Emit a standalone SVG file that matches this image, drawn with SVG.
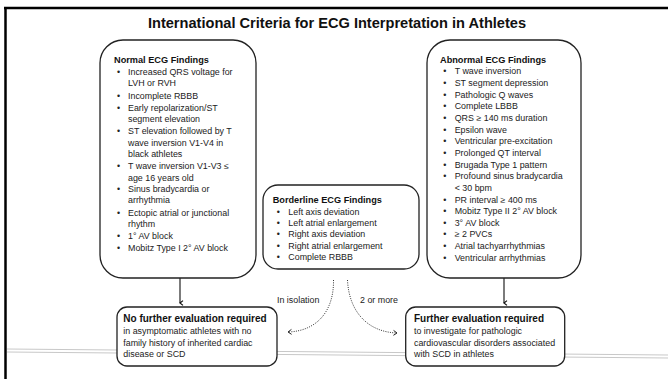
<svg xmlns="http://www.w3.org/2000/svg" width="668" height="379" viewBox="0 0 668 379">
<defs>
<style>
text{font-family:"Liberation Sans",Arial,sans-serif;font-size:8.9px;fill:#222}
.title{font-size:14.6px;font-weight:bold;fill:#111}
.h{font-size:9.2px;font-weight:bold;fill:#111}
.h2{font-size:10px;font-weight:bold;fill:#111}
.box{fill:#fff;stroke:#222;stroke-width:1.3}
.arrow{stroke:#444;stroke-width:1.4;fill:none}
.dot{stroke:#333;stroke-width:1;fill:none;stroke-dasharray:1 1.3}
</style>
<marker id="ah" viewBox="0 0 10 10" refX="5" refY="8" markerWidth="6" markerHeight="6" orient="auto" markerUnits="userSpaceOnUse">
<path d="M1,3 L5,8 L9,3" fill="none" stroke="#111" stroke-width="2"/>
</marker>
<marker id="dh" viewBox="0 0 10 10" refX="8" refY="5" markerWidth="7" markerHeight="7" orient="auto" markerUnits="userSpaceOnUse">
<path d="M3,1.5 L8,5 L3,8.5" fill="none" stroke="#222" stroke-width="1.4"/>
</marker>
</defs>
<rect width="668" height="379" fill="#fff"/>
<g id="frame">
<line x1="4" y1="8" x2="668" y2="8" stroke="#000" stroke-width="2.5"/>
<line x1="5.5" y1="7" x2="5.5" y2="379" stroke="#000" stroke-width="2.5"/>
<line x1="7" y1="349" x2="668" y2="355" stroke="#c8c8c8" stroke-width="1"/>
<line x1="7" y1="352" x2="668" y2="358" stroke="#c8c8c8" stroke-width="1"/>
</g>
<text class="title" x="337" y="28" text-anchor="middle">International Criteria for ECG Interpretation in Athletes</text>

<g id="connectors">
<line class="arrow" x1="180" y1="278" x2="180" y2="303" marker-end="url(#ah)"/>
<line class="arrow" x1="504" y1="278" x2="504" y2="303" marker-end="url(#ah)"/>
<path class="dot" d="M333.5,280 C334,310 318,331 288,332" marker-end="url(#dh)"/>
<path class="dot" d="M347.5,280 C349,312 368,332 397,333" marker-end="url(#dh)"/>
<text x="277" y="302.7">In isolation</text>
<text x="360" y="302.7">2 or more</text>
</g>

<g id="normal">
<rect class="box" x="100" y="40" width="156" height="238" rx="23"/>
<text><tspan class="h" x="114" y="63.3">Normal ECG Findings</tspan><tspan x="117" y="75">•</tspan><tspan x="128" y="75">Increased QRS voltage for</tspan><tspan x="128" y="86.2">LVH or RVH</tspan><tspan x="117" y="98.7">•</tspan><tspan x="128" y="98.7">Incomplete RBBB</tspan><tspan x="117" y="111">•</tspan><tspan x="128" y="111">Early repolarization/ST</tspan><tspan x="128" y="122.3">segment elevation</tspan><tspan x="117" y="134.3">•</tspan><tspan x="128" y="134.3">ST elevation followed by T</tspan><tspan x="128" y="145.7">wave inversion V1-V4 in</tspan><tspan x="128" y="157">black athletes</tspan><tspan x="117" y="169.3">•</tspan><tspan x="128" y="169.3">T wave inversion V1-V3 ≤</tspan><tspan x="128" y="180.5">age 16 years old</tspan><tspan x="117" y="192">•</tspan><tspan x="128" y="192">Sinus bradycardia or</tspan><tspan x="128" y="203.3">arrhythmia</tspan><tspan x="117" y="215.7">•</tspan><tspan x="128" y="215.7">Ectopic atrial or junctional</tspan><tspan x="128" y="226.9">rhythm</tspan><tspan x="117" y="239.3">•</tspan><tspan x="128" y="239.3">1° AV block</tspan><tspan x="117" y="250.5">•</tspan><tspan x="128" y="250.5">Mobitz Type I 2° AV block</tspan></text>
</g>

<g id="borderline">
<rect class="box" x="263" y="185" width="156" height="84" rx="15"/>
<text><tspan class="h" x="272.7" y="202.7">Borderline ECG Findings</tspan><tspan x="276.7" y="214.6">•</tspan><tspan x="288.3" y="214.6">Left axis deviation</tspan><tspan x="276.7" y="226">•</tspan><tspan x="288.3" y="226">Left atrial enlargement</tspan><tspan x="276.7" y="237.4">•</tspan><tspan x="288.3" y="237.4">Right axis deviation</tspan><tspan x="276.7" y="248.8">•</tspan><tspan x="288.3" y="248.8">Right atrial enlargement</tspan><tspan x="276.7" y="260.2">•</tspan><tspan x="288.3" y="260.2">Complete RBBB</tspan></text>
</g>

<g id="abnormal">
<rect class="box" x="427" y="40" width="154" height="238" rx="23"/>
<text><tspan class="h" x="440" y="63.3">Abnormal ECG Findings</tspan><tspan x="443.3" y="74.3">•</tspan><tspan x="454.7" y="74.3">T wave inversion</tspan><tspan x="443.3" y="86">•</tspan><tspan x="454.7" y="86">ST segment depression</tspan><tspan x="443.3" y="97.6">•</tspan><tspan x="454.7" y="97.6">Pathologic Q waves</tspan><tspan x="443.3" y="109.3">•</tspan><tspan x="454.7" y="109.3">Complete LBBB</tspan><tspan x="443.3" y="120.9">•</tspan><tspan x="454.7" y="120.9">QRS ≥ 140 ms duration</tspan><tspan x="443.3" y="132.6">•</tspan><tspan x="454.7" y="132.6">Epsilon wave</tspan><tspan x="443.3" y="144.2">•</tspan><tspan x="454.7" y="144.2">Ventricular pre-excitation</tspan><tspan x="443.3" y="155.9">•</tspan><tspan x="454.7" y="155.9">Prolonged QT interval</tspan><tspan x="443.3" y="167.5">•</tspan><tspan x="454.7" y="167.5">Brugada Type 1 pattern</tspan><tspan x="443.3" y="179.2">•</tspan><tspan x="454.7" y="179.2">Profound sinus bradycardia</tspan><tspan x="454.7" y="190.8">&lt; 30 bpm</tspan><tspan x="443.3" y="202.5">•</tspan><tspan x="454.7" y="202.5">PR interval ≥ 400 ms</tspan><tspan x="443.3" y="214.1">•</tspan><tspan x="454.7" y="214.1">Mobitz Type II 2° AV block</tspan><tspan x="443.3" y="225.8">•</tspan><tspan x="454.7" y="225.8">3° AV block</tspan><tspan x="443.3" y="237.4">•</tspan><tspan x="454.7" y="237.4">≥ 2  PVCs</tspan><tspan x="443.3" y="249.1">•</tspan><tspan x="454.7" y="249.1">Atrial tachyarrhythmias</tspan><tspan x="443.3" y="260.7">•</tspan><tspan x="454.7" y="260.7">Ventricular arrhythmias</tspan></text>
</g>

<g id="no-further">
<rect class="box" x="117" y="307" width="160" height="59" rx="10"/>
<text><tspan class="h2" x="123.3" y="322.3">No further evaluation required</tspan><tspan x="123.3" y="334">in asymptomatic athletes with no</tspan><tspan x="123.3" y="345.7">family history of inherited cardiac</tspan><tspan x="123.3" y="357.3">disease or SCD</tspan></text>
</g>

<g id="further">
<rect class="box" x="405.7" y="307" width="159" height="59" rx="10"/>
<text><tspan class="h2" x="414" y="322.3">Further evaluation required</tspan><tspan x="414" y="334">to investigate for pathologic</tspan><tspan x="414" y="345.7">cardiovascular disorders associated</tspan><tspan x="414" y="357.3">with SCD in athletes</tspan></text>
</g>
</svg>
